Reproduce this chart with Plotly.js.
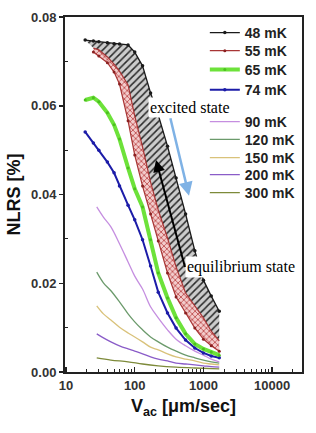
<!DOCTYPE html>
<html><head><meta charset="utf-8">
<script src="https://cdn.plot.ly/plotly-3.0.1.min.js"></script>
<style>html,body{margin:0;padding:0;background:#fff}#chart{width:316px;height:433px}</style>
</head><body><div id="chart"></div>
<script>
// velocities (μm/sec)
const vThick = [19, 25, 30, 40, 50, 60, 80, 100, 130, 170, 220, 300, 400, 550, 750, 1000, 1300, 1700];
const v55 = [25, 30, 40, 50, 60, 80, 100, 130, 170, 220, 300, 400, 550, 750, 1000, 1300, 1700];
const vThin = [28, 35, 45, 60, 80, 100, 130, 170, 220, 300, 400, 550, 750, 1000, 1300, 1700];
const v300 = [28, 45, 80, 130, 220, 400, 750, 1700];

// NLRS [%]
const nlrs48 = [0.0748, 0.0746, 0.0744, 0.0742, 0.0740, 0.0739, 0.0737, 0.0721, 0.0690, 0.0629, 0.0579, 0.0509, 0.0437, 0.0356, 0.0273, 0.0207, 0.0171, 0.0137];
const nlrs55Upper = [0.0730, 0.0726, 0.0710, 0.0694, 0.0678, 0.0647, 0.0577, 0.0507, 0.0428, 0.0365, 0.0302, 0.0237, 0.0178, 0.0149, 0.0122, 0.0092, 0.0070];
const nlrs55Lower = [0.0721, 0.0712, 0.0697, 0.0676, 0.0649, 0.0566, 0.0489, 0.0419, 0.0356, 0.0295, 0.0223, 0.0169, 0.0133, 0.0099, 0.0074, 0.0059, 0.0047];
const nlrs65 = [0.0613, 0.0618, 0.0609, 0.0584, 0.0557, 0.0525, 0.0460, 0.0413, 0.0372, 0.0298, 0.0223, 0.0167, 0.0122, 0.0086, 0.0063, 0.0052, 0.0045, 0.0038];
const nlrs74 = [0.0541, 0.0516, 0.0500, 0.0473, 0.0449, 0.0419, 0.0376, 0.0343, 0.0298, 0.0239, 0.0180, 0.0133, 0.0099, 0.0072, 0.0054, 0.0043, 0.0036, 0.0032];
const nlrs90 = [0.0372, 0.0349, 0.0327, 0.0289, 0.0248, 0.0216, 0.0187, 0.0147, 0.0122, 0.0095, 0.0074, 0.0059, 0.0047, 0.0038, 0.0029, 0.0023];
const nlrs120 = [0.0225, 0.0201, 0.0183, 0.0158, 0.0131, 0.0113, 0.0095, 0.0079, 0.0068, 0.0056, 0.0047, 0.0038, 0.0032, 0.0027, 0.0023, 0.0020];
const nlrs150 = [0.0149, 0.0131, 0.0117, 0.0101, 0.0088, 0.0079, 0.0068, 0.0056, 0.0050, 0.0041, 0.0034, 0.0029, 0.0025, 0.0020, 0.0018, 0.0016];
const nlrs200 = [0.0086, 0.0077, 0.0068, 0.0059, 0.0052, 0.0047, 0.0041, 0.0034, 0.0029, 0.0025, 0.0020, 0.0018, 0.0016, 0.0014, 0.0012, 0.0011];
const nlrs300 = [0.0032, 0.0027, 0.0023, 0.0018, 0.0014, 0.0011, 0.0009, 0.0007];

const xTickVals = [10, 100, 1000, 10000];
const xTickText = ['10', '100', '1000', '10000'];
const yTickVals = [0, 0.02, 0.04, 0.06, 0.08];
const yTickText = ['0.00', '0.02', '0.04', '0.06', '0.08'];

const F = 'Liberation Sans, Arial, sans-serif';
const SERIF = 'Liberation Serif, Times New Roman, serif';

function thin(x, y, name, color, lg) {
  return {x: x, y: y, name: name, type: 'scatter', mode: 'lines', legend: lg,
          line: {color: color, width: 1.3, shape: 'spline'}, hoverinfo: 'skip'};
}

const traces = [
  thin(v300, nlrs300, '300 mK', '#7d8a3a', 'legend9'),
  thin(vThin, nlrs200, '200 mK', '#8a5cc8', 'legend8'),
  thin(vThin, nlrs150, '150 mK', '#d9c27a', 'legend7'),
  thin(vThin, nlrs120, '120 mK', '#6b9a6b', 'legend6'),
  thin(vThin, nlrs90, '90 mK', '#c58ee0', 'legend5'),
  {x: vThick, y: nlrs74, name: '74 mK', type: 'scatter', mode: 'lines+markers', legend: 'legend4',
   line: {color: '#1c1ca8', width: 2}, marker: {color: '#1c1ca8', size: 3.5}},
  {x: vThick, y: nlrs65, name: '65 mK', type: 'scatter', mode: 'lines+markers', legend: 'legend3',
   line: {color: '#6de23a', width: 4}, marker: {color: '#4cc020', size: 3}},
  {x: v55, y: nlrs55Lower, name: '55 mK', type: 'scatter', mode: 'lines+markers', legend: 'legend2',
   line: {color: '#a83535', width: 1.2}, marker: {color: '#8a2020', size: 3}},
  {x: v55, y: nlrs55Upper, name: '55 mK upper', type: 'scatter', mode: 'lines', showlegend: false,
   line: {color: '#a83535', width: 1.2}, fill: 'tonexty', fillcolor: '#efbcbc',
   fillpattern: {shape: 'x', fgcolor: '#b84040', bgcolor: '#f3cccc', size: 4, solidity: 0.35}},
  {x: vThick, y: nlrs48, name: 'region', type: 'scatter', mode: 'lines', showlegend: false,
   line: {color: 'rgba(0,0,0,0)', width: 0}, fill: 'tonexty', fillcolor: '#c4c4c4',
   fillpattern: {shape: '/', fgcolor: '#2a2a2a', bgcolor: '#cccccc', size: 5, solidity: 0.3}},
  {x: vThick, y: nlrs48, name: '48 mK', type: 'scatter', mode: 'lines+markers', legend: 'legend',
   line: {color: '#1a1a1a', width: 1.3}, marker: {color: '#1a1a1a', size: 3.5}}
];

const legendFont = {family: F, size: 14, weight: 'bold', color: '#222'};
function lg(y) {
  return {x: 0.59, xanchor: 'left', y: y, yanchor: 'middle', bgcolor: 'rgba(0,0,0,0)',
          font: legendFont, itemwidth: 30, borderwidth: 0};
}

const layout = {
  width: 316, height: 433,
  margin: {l: 65, r: 14, t: 17, b: 61},
  paper_bgcolor: '#fff', plot_bgcolor: '#fff',
  font: {family: F, color: '#222'},
  showlegend: true,
  xaxis: {
    type: 'log', range: [0.985, 4.435],
    tickmode: 'array', tickvals: xTickVals, ticktext: xTickText,
    ticks: 'inside', ticklen: 5, tickwidth: 1.5, tickcolor: '#222',
    showline: true, linecolor: '#222', linewidth: 2, mirror: true,
    showgrid: false, zeroline: false,
    tickfont: {family: F, size: 13, weight: 'bold', color: '#333'},
    minor: {tickvals: [20,30,40,50,60,70,80,90,200,300,400,500,600,700,800,900,2000,3000,4000,5000,6000,7000,8000,9000,20000],
            ticks: 'inside', ticklen: 3, tickcolor: '#222', tickwidth: 1, showgrid: false},
    title: {text: 'V<sub>ac</sub> [μm/sec]', font: {family: F, size: 18, weight: 'bold', color: '#111'}, standoff: 8}
  },
  yaxis: {
    range: [0, 0.08],
    tickmode: 'array', tickvals: yTickVals, ticktext: yTickText,
    ticks: 'outside', ticklen: 4, tickwidth: 1.5, tickcolor: '#222',
    showline: true, linecolor: '#222', linewidth: 2, mirror: true,
    showgrid: false, zeroline: false,
    tickfont: {family: F, size: 13, weight: 'bold', color: '#333'},
    minor: {tickvals: [0.01, 0.03, 0.05, 0.07], ticks: 'inside', ticklen: 3, tickcolor: '#222', tickwidth: 1, showgrid: false},
    title: {text: 'NLRS [%]\u00a0\u00a0\u00a0', font: {family: F, size: 18, weight: 'bold', color: '#111'}, standoff: 6}
  },
  legend: lg(0.955),
  legend2: lg(0.904),
  legend3: lg(0.851),
  legend4: lg(0.794),
  legend5: lg(0.704),
  legend6: lg(0.654),
  legend7: lg(0.603),
  legend8: lg(0.555),
  legend9: lg(0.504),
  annotations: [
    {x: Math.log10(617), y: 0.0397, xref: 'x', yref: 'y', text: '', showarrow: true,
     ax: -19, ay: -79, arrowcolor: '#7fb2e5', arrowwidth: 2.5, arrowhead: 2, arrowsize: 1.1},
    {x: Math.log10(640), y: 0.0597, xref: 'x', yref: 'y', text: 'excited state', showarrow: false,
     font: {family: SERIF, size: 16, color: '#000'}, bgcolor: '#fff', borderpad: 1},
    {x: Math.log10(204), y: 0.0478, xref: 'x', yref: 'y', text: 'equilibrium state', showarrow: true,
     ax: 29, ay: 107, xanchor: 'left', yanchor: 'middle',
     arrowcolor: '#000', arrowwidth: 2, arrowhead: 2, arrowsize: 1.2,
     font: {family: SERIF, size: 16, color: '#000'}, bgcolor: '#fff', borderpad: 1}
  ]
};

Plotly.newPlot('chart', traces, layout, {staticPlot: true, displayModeBar: false});
</script>
</body></html>
